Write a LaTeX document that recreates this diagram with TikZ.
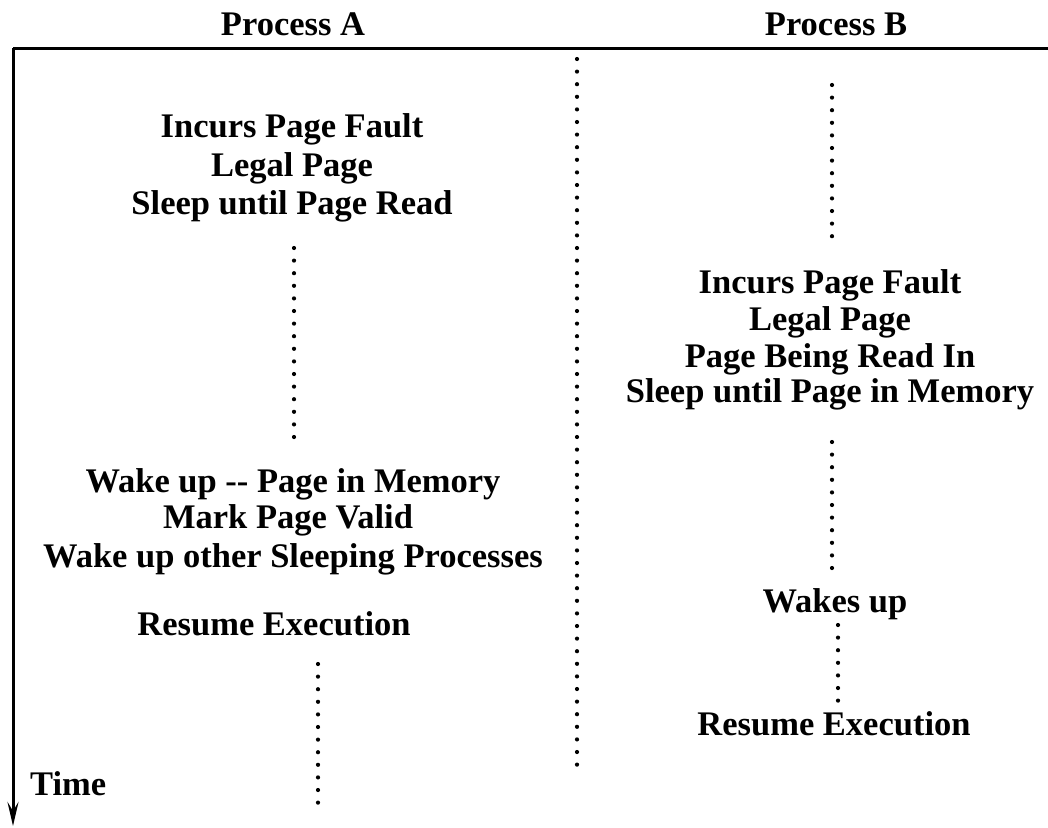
\documentclass[tikz,border=0pt]{standalone}
\usepackage{fontspec}
\setmainfont{Liberation Serif}
\usetikzlibrary{arrows.meta}
\begin{document}
\begin{tikzpicture}[x=1pt,y=-1pt,
  lbl/.style={anchor=base,inner sep=0pt,font=\fontsize{34.5}{38}\selectfont\bfseries},
  axis/.style={line width=3pt},
  dots/.style={line width=4.2pt,line cap=round,dash pattern=on 0pt off 12.6pt}]
\useasboundingbox (0,0) rectangle (1048,827);
% titles
\node[lbl] (ta) at (293,35) {Process A};
\node[lbl] (tb) at (836,35) {Process B};
% axes
\coordinate (o) at (13,48);
\coordinate (r) at (1048,48);
\coordinate (d) at (13,826);
\draw[axis] (r) -- (o);
\draw[axis,-{Stealth[length=24pt,width=11pt,inset=9pt]}] (o) -- (d);
\node[lbl,anchor=base west] (time) at (30,795) {Time};
% central divider
\coordinate (c1) at (577,59);
\coordinate (c2) at (577,770);
\draw[dots] (c1) -- (c2);
% Process A
\node[lbl] (a1) at (292,137) {Incurs Page Fault};
\node[lbl] (a2) at (292,176) {Legal Page};
\node[lbl] (a3) at (292,214) {Sleep until Page Read};
\node[lbl] (a4) at (293,492) {Wake up -{}- Page in Memory};
\node[lbl] (a5) at (288,528) {Mark Page Valid};
\node[lbl] (a6) at (293,567) {Wake up other Sleeping Processes};
\node[lbl] (a7) at (274,635) {Resume Execution};
\coordinate (ad1) at (294,248);
\coordinate (ad2) at (294,444);
\draw[dots] (ad1) -- (ad2);
\coordinate (ad3) at (318,664);
\coordinate (ad4) at (318,805);
\draw[dots] (ad3) -- (ad4);
% Process B
\coordinate (bd1) at (832,85);
\coordinate (bd2) at (832,245);
\draw[dots] (bd1) -- (bd2);
\node[lbl] (b1) at (830,293) {Incurs Page Fault};
\node[lbl] (b2) at (830,330) {Legal Page};
\node[lbl] (b3) at (830,367) {Page Being Read In};
\node[lbl] (b4) at (830,402) {Sleep until Page in Memory};
\coordinate (bd3) at (832,442);
\coordinate (bd4) at (832,570);
\draw[dots] (bd3) -- (bd4);
\node[lbl] (b5) at (835,612) {Wakes up};
\coordinate (bd5) at (838,625);
\coordinate (bd6) at (838,703);
\draw[dots] (bd5) -- (bd6);
\node[lbl] (b6) at (834,735) {Resume Execution};
\end{tikzpicture}
\end{document}
